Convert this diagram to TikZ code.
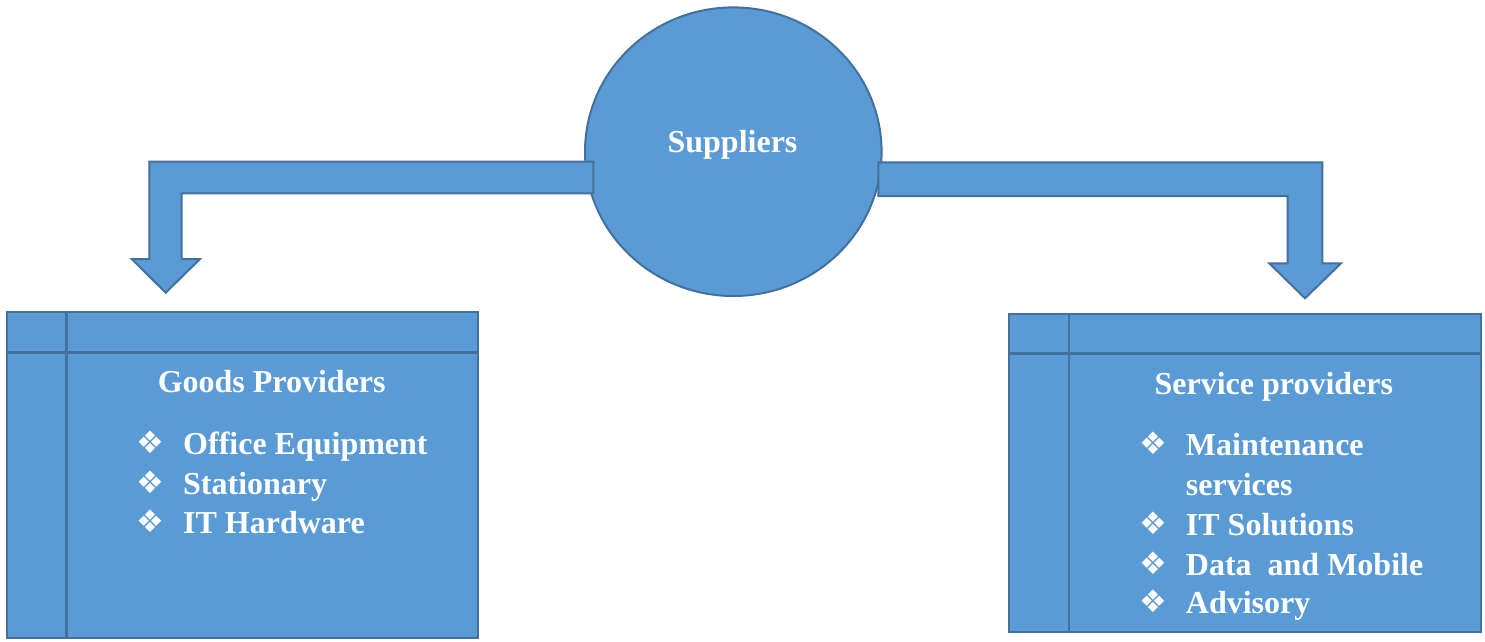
\documentclass[tikz,border=0pt]{standalone}
\usepackage{fontspec}
\setmainfont{Liberation Serif}
\newfontfamily\symfont{DejaVu Sans}
\definecolor{boxfill}{HTML}{5B9BD5}
\definecolor{boxline}{HTML}{41719C}
\tikzset{
  shapebox/.style={fill=boxfill, draw=boxline, line width=2pt, line join=miter},
  divline/.style={draw=boxline, line width=2.5pt},
  txt/.style={text=white, font=\fontsize{32}{38}\selectfont\bfseries, inner sep=0pt},
  bul/.style={text=white, font=\symfont\fontsize{31}{34}\selectfont, inner sep=0pt},
}
\begin{document}
\begin{tikzpicture}[x=1pt,y=-1pt]
\useasboundingbox (0,0) rectangle (1485,641);
% circle
\draw[shapebox] (733.3,151.7) ellipse [x radius=148.3, y radius=144.3];
\node[txt, anchor=base] (sup) at (732.5,152.7) {Suppliers};
% left block arrow
\draw[shapebox] (593.3,161.7) -- (149.3,161.7) -- (149.3,259) -- (131.7,259) -- (165.7,292.7) -- (200,259) -- (181.7,259) -- (181.7,193.3) -- (593.3,193.3) -- cycle;
% right block arrow
\draw[shapebox] (878.3,162.3) -- (1322.3,162.3) -- (1322.3,263.3) -- (1341,263.3) -- (1305,298.3) -- (1269.3,263.3) -- (1287.7,263.3) -- (1287.7,196) -- (878.3,196) -- cycle;
% left box
\draw[shapebox] (7.3,311.7) rectangle (478.3,637.7);
\draw[divline] (66.7,311.7) -- (66.7,637.7);
\draw[divline] (7.3,352.7) -- (478.3,352.7);
\node[txt, anchor=base] (gp) at (271.7,392.7) {Goods Providers};
\node[bul, anchor=base west] (gb1) at (136,453) {❖};
\node[bul, anchor=base west] (gb2) at (136,493) {❖};
\node[bul, anchor=base west] (gb3) at (136,532) {❖};
\node[txt, anchor=base west] (g1) at (183,454) {Office Equipment};
\node[txt, anchor=base west] (g2) at (183,494) {Stationary};
\node[txt, anchor=base west] (g3) at (183,533) {IT Hardware};
% right box
\draw[shapebox] (1009.3,314) rectangle (1480.7,632.3);
\draw[divline] (1069,314) -- (1069,632.3);
\draw[divline] (1009.3,353.3) -- (1480.7,353.3);
\node[txt, anchor=base] (sp) at (1273.8,394) {Service providers};
\node[bul, anchor=base west] (sb1) at (1139.5,454) {❖};
\node[bul, anchor=base west] (sb3) at (1139.5,534) {❖};
\node[bul, anchor=base west] (sb4) at (1139.5,574) {❖};
\node[bul, anchor=base west] (sb5) at (1139.5,612) {❖};
\node[txt, anchor=base west] (s1) at (1185.7,455) {Maintenance};
\node[txt, anchor=base west] (s2) at (1185.7,495) {services};
\node[txt, anchor=base west] (s3) at (1185.7,535) {IT Solutions};
\node[txt, anchor=base west] (s4) at (1185.7,575) {Data\ \ and Mobile};
\node[txt, anchor=base west] (s5) at (1185.7,613) {Advisory};
\end{tikzpicture}
\end{document}
